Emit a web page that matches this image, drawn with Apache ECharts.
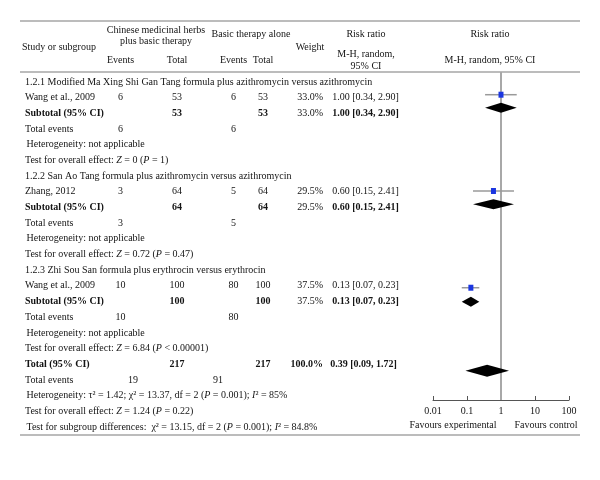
<!DOCTYPE html>
<html><head><meta charset="utf-8">
<script src="https://cdn.jsdelivr.net/npm/echarts@6/dist/echarts.min.js"></script>
<style>html,body{margin:0;padding:0;background:#fff}#c{width:600px;height:480px}</style>
</head><body><div id="c"></div>
<script>
// ---------- data ----------
const subgroupTitles = [
  '1.2.1 Modified Ma Xing Shi Gan Tang formula plus azithromycin versus azithromycin',
  '1.2.2 San Ao Tang formula plus azithromycin versus azithromycin',
  '1.2.3 Zhi Sou San formula plus erythrocin versus erythrocin'
];
const studyNames = ['Wang et al., 2009', 'Zhang, 2012', 'Wang et al., 2009'];
const expEvents = [6, 3, 10];
const expTotal = [53, 64, 100];
const ctlEvents = [6, 5, 80];
const ctlTotal = [53, 64, 100];
const weights = ['33.0%', '29.5%', '37.5%'];
const riskRatio = [1.00, 0.60, 0.13];
const ciLow = [0.34, 0.15, 0.07];
const ciHigh = [2.90, 2.41, 0.23];
const overallEffect = [
  'Test for overall effect: {i|Z} = 0 ({i|P} = 1)',
  'Test for overall effect: {i|Z} = 0.72 ({i|P} = 0.47)',
  'Test for overall effect: {i|Z} = 6.84 ({i|P} < 0.00001)'
];
const studyRow = [0.81, 6.95, 13.12];     // vertical position of study marker (row units)
const subtotalRow = [1.64, 7.80, 14.01];  // vertical position of subtotal diamond
const totalRR = [0.39, 0.09, 1.72];       // [estimate, low, high]
const totalRow = 18.41;
const totalCounts = [217, 217];
const totalEvents = [19, 91];
const totalWeight = '100.0%';
const totalHetero = 'Heterogeneity: τ² = 1.42; χ² = 13.37, df = 2 ({i|P} = 0.001); {i|I}² = 85%';
const totalOverall = 'Test for overall effect: {i|Z} = 1.24 ({i|P} = 0.22)';
const subgroupDiff = 'Test for subgroup differences:  χ² = 13.15, df = 2 ({i|P} = 0.001); {i|I}² = 84.8%';
const tickLabels = ['0.01', '0.1', '1', '10', '100'];

// ---------- layout ----------
const F = "'Liberation Serif','DejaVu Serif',serif";
const FS = 10;
const TXT = '#141414';
const COL = {study: 25, ev1: 120.5, tot1: 177, ev2: 233.5, tot2: 263, wRight: 323, rr: 365.5};
const fmt = v => v.toFixed(2);
const ciText = (r, l, h) => fmt(r) + ' [' + fmt(l) + ', ' + fmt(h) + ']';

const rows = [];
function addRow(cells) { rows.push(cells); }
for (let g = 0; g < 3; g++) {
  addRow([{x: COL.study, a: 'left', t: subgroupTitles[g]}]);
  addRow([
    {x: COL.study, a: 'left', t: studyNames[g]},
    {x: COL.ev1, a: 'center', t: String(expEvents[g])},
    {x: COL.tot1, a: 'center', t: String(expTotal[g])},
    {x: COL.ev2, a: 'center', t: String(ctlEvents[g])},
    {x: COL.tot2, a: 'center', t: String(ctlTotal[g])},
    {x: COL.wRight, a: 'right', t: weights[g]},
    {x: COL.rr, a: 'center', t: ciText(riskRatio[g], ciLow[g], ciHigh[g])}
  ]);
  addRow([
    {x: COL.study, a: 'left', t: 'Subtotal (95% CI)', b: 1},
    {x: COL.tot1, a: 'center', t: String(expTotal[g]), b: 1},
    {x: COL.tot2, a: 'center', t: String(ctlTotal[g]), b: 1},
    {x: COL.wRight, a: 'right', t: weights[g]},
    {x: COL.rr, a: 'center', t: ciText(riskRatio[g], ciLow[g], ciHigh[g]), b: 1}
  ]);
  addRow([
    {x: COL.study, a: 'left', t: 'Total events'},
    {x: COL.ev1, a: 'center', t: String(expEvents[g])},
    {x: COL.ev2, a: 'center', t: String(ctlEvents[g])}
  ]);
  addRow([{x: COL.study + 1.5, a: 'left', t: 'Heterogeneity: not applicable'}]);
  addRow([{x: COL.study, a: 'left', t: overallEffect[g]}]);
}
addRow([
  {x: COL.study, a: 'left', t: 'Total (95% CI)', b: 1},
  {x: COL.tot1, a: 'center', t: String(totalCounts[0]), b: 1},
  {x: COL.tot2, a: 'center', t: String(totalCounts[1]), b: 1},
  {x: COL.wRight, a: 'right', t: totalWeight, b: 1},
  {x: COL.rr - 2, a: 'center', t: ciText(totalRR[0], totalRR[1], totalRR[2]), b: 1}
]);
addRow([
  {x: COL.study, a: 'left', t: 'Total events'},
  {x: 133, a: 'center', t: String(totalEvents[0])},
  {x: 218, a: 'center', t: String(totalEvents[1])}
]);
addRow([{x: COL.study + 1.5, a: 'left', t: totalHetero}]);
addRow([{x: COL.study, a: 'left', t: totalOverall}]);
addRow([{x: COL.study + 1.5, a: 'left', t: subgroupDiff}]);

const Y_MIN = -0.638, Y_MAX = 20.28;

const rich = {
  i: {fontStyle: 'italic', fontSize: FS, fontFamily: F, fill: TXT}
};

function txt(x, y, t, align, bold) {
  return {type: 'text', x: x, y: y, silent: true,
    style: {text: t, fontSize: FS, fontFamily: F, fontWeight: bold ? 'bold' : 'normal',
      fill: TXT, align: align, verticalAlign: 'middle', rich: rich}};
}

const chart = echarts.init(document.getElementById('c'), null, {renderer: 'canvas'});

function g(x, y, t, align) {
  return {type: 'text', x: x, y: y, silent: true,
    style: {text: t, fontSize: FS, fontFamily: F, fill: TXT, align: align || 'center', verticalAlign: 'middle'}};
}
function rule(y) {
  return {type: 'line', silent: true, shape: {x1: 20, y1: y, x2: 580, y2: y},
    style: {stroke: '#7a7a7a', lineWidth: 1.2}};
}

chart.setOption({
  animation: false,
  backgroundColor: '#fff',
  grid: {left: 433, right: 31, top: 72, bottom: 80},
  xAxis: {
    type: 'log', logBase: 10, min: 0.01, max: 100,
    axisLine: {show: true, onZero: false, lineStyle: {color: '#555', width: 1}},
    axisTick: {show: true, inside: true, length: 4, lineStyle: {color: '#555'}},
    splitLine: {show: false}, minorTick: {show: false},
    axisLabel: {
      fontFamily: F, fontSize: FS, color: TXT, margin: 6,
      formatter: v => { const k = Math.round(Math.log10(v)) + 2; return tickLabels[k] || ''; }
    }
  },
  yAxis: {type: 'value', inverse: true, min: Y_MIN, max: Y_MAX, show: false},
  graphic: [
    rule(21), rule(72), rule(435),
    g(156, 30, 'Chinese medicinal herbs'),
    g(156, 41.5, 'plus basic therapy'),
    g(22, 47.5, 'Study or subgroup', 'left'),
    g(251, 34, 'Basic therapy alone'),
    g(120.5, 60.5, 'Events'), g(177, 60.5, 'Total'),
    g(233.5, 60.5, 'Events'), g(263, 60.5, 'Total'),
    g(310, 47.5, 'Weight'),
    g(366, 34, 'Risk ratio'),
    g(366, 54.5, 'M-H, random,'),
    g(366, 66, '95% CI'),
    g(490, 34, 'Risk ratio'),
    g(490, 60.5, 'M-H, random, 95% CI'),
    g(453, 425, 'Favours experimental'),
    g(546, 425, 'Favours control')
  ],
  series: [
    {
      type: 'line', name: 'ref', data: [[1, Y_MIN], [1, Y_MAX]], symbol: 'none', silent: true,
      lineStyle: {color: '#a8a8a8', width: 2}, z: 1
    },
    {
      type: 'custom', name: 'studies', silent: true, z: 3,
      data: riskRatio.map((r, i) => [r, ciLow[i], ciHigh[i], studyRow[i]]),
      renderItem: (params, api) => {
        const y = api.value(3);
        const p = api.coord([api.value(0), y]);
        const l = api.coord([api.value(1), y]);
        const h = api.coord([api.value(2), y]);
        return {type: 'group', children: [
          {type: 'line', shape: {x1: l[0], y1: l[1], x2: h[0], y2: h[1]}, style: {stroke: '#9a9a9a', lineWidth: 1.5}},
          {type: 'rect', shape: {x: p[0] - 2.5, y: p[1] - 3, width: 5, height: 6}, style: {fill: '#1b36e0'}}
        ]};
      }
    },
    {
      type: 'custom', name: 'diamonds', silent: true, z: 3,
      data: riskRatio.map((r, i) => [r, ciLow[i], ciHigh[i], subtotalRow[i], 5])
        .concat([[totalRR[0], totalRR[1], totalRR[2], totalRow, 6]]),
      renderItem: (params, api) => {
        const y = api.value(3), hh = api.value(4);
        const p = api.coord([api.value(0), y]);
        const l = api.coord([api.value(1), y]);
        const h = api.coord([api.value(2), y]);
        return {type: 'polygon', shape: {points: [[l[0], l[1]], [p[0], p[1] - hh], [h[0], h[1]], [p[0], p[1] + hh]]},
          style: {fill: '#000'}};
      }
    },
    {
      type: 'custom', name: 'table', silent: true, clip: false, z: 4,
      data: rows.map((r, i) => [1, i]),
      renderItem: (params, api) => {
        const i = api.value(1);
        const y = api.coord([1, i])[1];
        return {type: 'group', children: rows[params.dataIndex].map(c => txt(c.x, y, c.t, c.a, c.b))};
      }
    }
  ]
});
</script></body></html>
